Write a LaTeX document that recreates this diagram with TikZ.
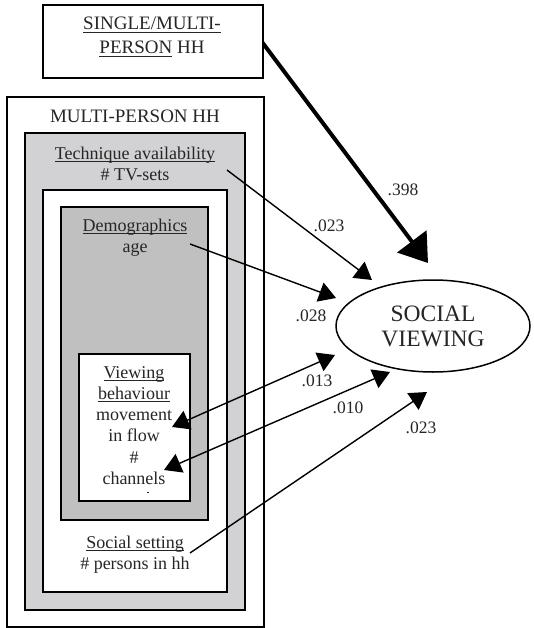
\documentclass[tikz,border=0pt]{standalone}
\usepackage{fontspec}
\setmainfont{Liberation Serif}
\usetikzlibrary{arrows.meta,shapes.geometric}
\definecolor{techgray}{HTML}{D2D2D4}
\definecolor{demogray}{HTML}{C0C0C0}
\definecolor{ink}{HTML}{262626}
% underline sitting just below the baseline
\newcommand{\ulx}[1]{\begingroup\setbox0=\hbox{#1}\rlap{\rule[-2.6pt]{\wd0}{0.9pt}}\box0\endgroup}

\begin{document}
\begin{tikzpicture}[x=1pt,y=-1pt,
  frame/.style={draw=black,line width=1.6pt},
  txt/.style={font=\fontsize{18}{21.2}\selectfont,text=ink,align=center,inner sep=0pt},
  captxt/.style={font=\fontsize{19}{24}\selectfont,text=ink,align=center,inner sep=0pt},
  coef/.style={font=\fontsize{17.5}{21}\selectfont,text=ink,inner sep=0pt},
  effect/.style={line width=1.4pt,-{Triangle[length=17pt,width=20pt]}},
  corr/.style={line width=1.4pt,{Triangle[length=17pt,width=20pt]}-{Triangle[length=17pt,width=20pt]}},
  strong/.style={line width=4pt,-{Triangle[length=27pt,width=36pt]}}]

\useasboundingbox (0,0) rectangle (533,628);
\fill[white] (0,0) rectangle (533,628);

% nested boxes of the multi-person household
\draw[frame,fill=white] (7,97) rectangle (264,627);
\draw[frame,fill=techgray] (25,133) rectangle (245,610);
\draw[frame,fill=white] (43,190) rectangle (227,592);
\draw[frame,fill=demogray] (61,207) rectangle (208,520);
\draw[frame,fill=white] (79,354) rectangle (190,501);

\node[captxt] (mp) at (135,116) {MULTI-PERSON HH};
\node[txt] (tech) at (135,163.5) {\ulx{Technique availability}\\\# TV-sets};
\node[txt] (demo) at (135,238) {\ulx{Demographics}\\age};
\node[txt] (view) at (134,425.5) {\ulx{Viewing}\\\ulx{behaviour}\\movement\\in flow\\\#\\channels};
\draw[ink,line width=0.8pt] (147,492) -- (149,492);
\node[txt] (soc) at (135,555) {\ulx{Social setting}\\\# persons in hh};

% end points of the connectors
\coordinate (techout) at (227,170);
\coordinate (demoout) at (190,244);
\coordinate (socout) at (190,553);
\coordinate (viewA) at (172,427);
\coordinate (viewB) at (164,470);
\coordinate (hhout) at (262,42);
\coordinate (inStrong) at (428,263);
\coordinate (inTech) at (372,280);
\coordinate (inDemo) at (336,298);
\coordinate (inA) at (335,355);
\coordinate (inB) at (390,372);
\coordinate (inSoc) at (427,392);

% household type box and outcome
\draw[strong] (hhout) -- (inStrong);
\node[draw=black,line width=1.8pt,fill=white,minimum width=220pt,minimum height=73pt,inner sep=0pt] (hh) at (153,41.5) {};
\node[captxt] (hhtxt) at (152,37) {\ulx{SINGLE/MULTI-}\\\ulx{PERSON} HH};
\node[draw=black,line width=1.5pt,ellipse,minimum width=194pt,minimum height=92pt,inner sep=0pt,
  font=\fontsize{23.5}{25}\selectfont,text=ink,align=center] (sv) at (433,326) {SOCIAL\\VIEWING};

% effects on social viewing
\draw[effect] (techout) -- (inTech);
\draw[effect] (demoout) -- (inDemo);
\draw[effect] (socout) -- (inSoc);
\draw[corr] (viewA) -- (inA);
\draw[corr] (viewB) -- (inB);

% coefficients
\node[coef] (c1) at (403,190) {.398};
\node[coef] (c2) at (329,226) {.023};
\node[coef] (c3) at (311,316) {.028};
\node[coef] (c4) at (317,381) {.013};
\node[coef] (c5) at (348,408) {.010};
\node[coef] (c6) at (421,428) {.023};
\end{tikzpicture}
\end{document}
